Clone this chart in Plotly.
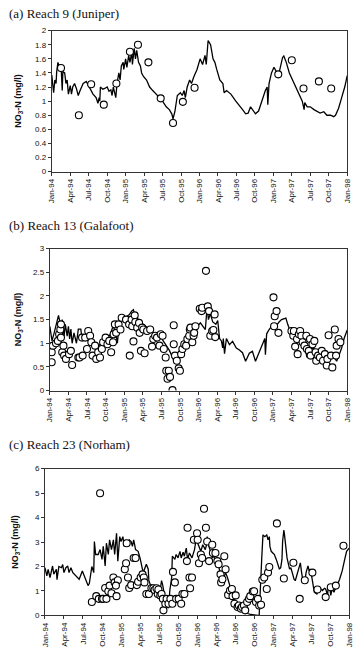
import plotly.graph_objects as go

# ---------------- data (x = months since Jan-1994) ----------------
tick_vals = [0, 3, 6, 9, 12, 15, 18, 21, 24, 27, 30, 33, 36, 39, 42, 45, 48]
tick_text = ["Jan-94", "Apr-94", "Jul-94", "Oct-94", "Jan-95", "Apr-95", "Jul-95", "Oct-95",
             "Jan-96", "Apr-96", "Jul-96", "Oct-96", "Jan-97", "Apr-97", "Jul-97", "Oct-97", "Jan-98"]

titles = ["(a) Reach 9 (Juniper)", "(b) Reach 13 (Galafoot)", "(c) Reach 23 (Norham)"]

# Panel (a) simulated line
a_sim_m = [0.0, 0.3, 0.5, 0.7, 0.8, 1.0, 1.2, 1.5, 1.7, 1.8, 2.1, 2.3, 2.5, 2.7, 3.0, 3.2, 3.4, 3.7, 4.0, 4.3,
           4.6, 5.1, 5.6, 6.1, 6.7, 7.2, 7.5, 7.7, 7.8, 7.9, 8.3, 8.6, 9.0, 9.3, 9.6, 9.8, 10.0, 10.4, 10.6, 10.9,
           11.1, 11.3, 11.6, 11.7, 12.0, 12.2, 12.5, 12.7, 13.0, 13.1, 13.4, 13.6, 13.8, 14.1, 14.4, 14.6, 14.9,
           15.4, 15.9, 16.4, 17.0, 17.5, 18.0, 18.6, 19.1, 19.5, 19.7, 20.0, 20.4, 20.9, 21.2, 21.5, 21.7, 22.0,
           22.4, 22.7, 23.1, 23.4, 23.6, 24.1, 24.5, 24.9, 25.1, 25.4, 25.8, 26.2, 26.5, 26.8, 27.3, 27.8, 28.0,
           28.4, 29.1, 29.9, 30.4, 31.0, 31.5, 31.9, 32.3, 32.7, 33.1, 33.6, 34.1, 34.7, 35.0, 35.1, 35.3, 35.7,
           36.1, 36.5, 36.8, 37.1, 37.5, 37.7, 38.1, 38.6, 39.2, 39.7, 40.2, 40.7, 41.0, 41.1, 41.5, 42.0, 42.6,
           43.1, 43.6, 44.2, 44.7, 45.3, 45.8, 46.1, 46.6, 47.1, 47.6, 48.0]
a_sim_v = [1.37, 1.12, 1.30, 1.25, 1.42, 1.55, 1.50, 1.52, 1.15, 1.42, 1.40, 1.25, 1.30, 1.10, 1.22, 1.10, 1.20,
           1.25, 1.18, 1.08, 1.15, 1.25, 1.28, 1.20, 1.10, 1.05, 0.97, 1.05, 1.00, 1.20, 1.17, 1.18, 1.20, 1.14,
           1.16, 1.08, 1.20, 1.05, 1.25, 1.40, 1.30, 1.50, 1.55, 1.45, 1.60, 1.48, 1.65, 1.55, 1.70, 1.52, 1.75,
           1.60, 1.72, 1.55, 1.50, 1.40, 1.35, 1.30, 1.20, 1.15, 1.10, 1.05, 1.00, 0.92, 0.88, 0.82, 0.75, 0.85,
           1.08, 1.12, 1.08, 1.15, 1.05, 1.20, 1.30, 1.25, 1.35, 1.40, 1.45, 1.60, 1.52, 1.65, 1.52, 1.86, 1.80,
           1.60, 1.55, 1.45, 1.30, 1.25, 1.12, 1.15, 1.10, 1.00, 0.95, 0.88, 0.82, 0.83, 0.92, 0.86, 0.82, 0.86,
           1.00, 1.15, 1.20, 0.95, 1.25, 1.40, 1.48, 1.42, 1.35, 1.45, 1.62, 1.64, 1.55, 1.40, 1.28, 1.20, 1.10,
           1.00, 0.88, 0.98, 0.92, 0.92, 0.88, 0.85, 0.83, 0.85, 0.80, 0.80, 0.78, 0.80, 0.90, 1.05, 1.20, 1.36]
# Panel (a) observations
a_obs_m = [1.5, 4.4, 6.4, 8.45, 10.5, 12.7, 14.0, 15.7, 17.7, 19.7, 21.3, 23.2, 36.8, 39.0, 40.9, 43.4, 45.4]
a_obs_v = [1.47, 0.80, 1.24, 0.95, 1.25, 1.70, 1.80, 1.55, 1.04, 0.69, 0.99, 1.19, 1.38, 1.58, 1.18, 1.28, 1.18]

# Panel (b) simulated line
b_sim_m = [0.0, 0.35, 0.7, 1.1, 1.4, 1.6, 1.8, 2.0, 2.3, 2.5, 2.8, 3.0, 3.2, 3.4, 3.6, 3.9, 4.3, 4.6, 5.0, 5.2,
           5.7, 6.2, 6.8, 7.3, 7.8, 8.3, 8.8, 9.3, 9.8, 10.2, 10.6, 10.9, 11.2, 11.7, 12.2, 12.8, 13.2, 13.5,
           13.7, 14.0, 14.3, 14.6, 15.1, 15.7, 16.2, 16.7, 17.2, 17.8, 18.3, 18.8, 19.3, 19.8, 20.1, 20.5, 20.9,
           21.4, 21.9, 22.4, 23.0, 23.5, 24.3, 24.7, 25.1, 25.4, 25.6, 25.9, 26.3, 26.8, 27.1, 27.4, 27.7, 27.9,
           28.0, 28.2, 28.5, 29.0, 29.5, 30.1, 30.6, 31.1, 31.6, 32.2, 32.7, 33.2, 33.7, 34.2, 34.7, 34.8, 35.0,
           35.4, 35.8, 36.2, 36.6, 37.0, 37.4, 38.1, 38.4, 38.7, 39.3, 40.0, 40.6, 41.3, 41.5, 41.8, 42.2, 42.6,
           43.1, 43.6, 44.2, 44.7, 45.1, 45.5, 45.9, 46.3, 46.7, 47.1, 47.5, 48.0]
b_sim_v = [1.36, 1.05, 1.22, 1.43, 1.59, 1.47, 1.35, 1.50, 1.15, 1.40, 1.15, 1.36, 1.09, 1.30, 1.00, 1.22, 1.00,
           1.30, 1.30, 1.09, 1.09, 1.05, 1.00, 0.95, 0.94, 1.00, 1.05, 1.10, 1.20, 1.36, 1.25, 1.00, 1.40, 1.50,
           1.55, 1.60, 1.68, 1.71, 1.55, 1.65, 1.45, 1.36, 1.40, 1.33, 1.28, 1.22, 1.20, 1.15, 1.05, 0.94, 0.85,
           0.70, 0.60, 0.72, 0.80, 0.88, 0.94, 1.05, 1.15, 1.30, 1.43, 1.35, 1.29, 1.78, 1.50, 1.62, 1.45, 1.40,
           1.48, 1.10, 1.05, 0.90, 1.10, 0.78, 1.10, 0.97, 1.04, 0.90, 0.86, 0.80, 0.62, 0.79, 0.83, 0.62, 0.79,
           0.97, 1.10, 0.76, 1.20, 1.29, 1.36, 1.30, 1.39, 1.45, 1.50, 1.53, 1.40, 1.29, 1.18, 1.08, 0.95, 0.83,
           0.70, 0.90, 0.88, 0.90, 0.82, 0.79, 0.82, 0.83, 0.75, 0.80, 0.70, 0.62, 0.75, 0.90, 1.10, 1.28]
# Panel (b) observations
b_obs_m = [0.3, 0.3, 0.5, 1.0, 1.3, 1.5, 1.7, 1.8, 1.8, 2.0, 2.2, 2.3, 2.6, 3.1, 3.4, 3.6, 4.6, 4.8, 5.2, 5.3,
           5.7, 6.0, 6.2, 6.5, 6.7, 6.9, 7.3, 7.5, 7.8, 8.1, 8.4, 8.6, 9.0, 9.3, 9.6, 9.9, 10.2, 10.3, 10.5, 10.7,
           11.1, 11.4, 11.6, 12.3, 12.8, 12.9, 13.2, 13.3, 13.5, 13.7, 13.8, 14.1, 14.4, 14.5, 14.7, 14.9, 15.1,
           15.3, 15.7, 16.2, 16.5, 16.7, 17.0, 17.3, 17.7, 17.9, 18.2, 18.4, 18.7, 18.8, 19.0, 19.2, 19.4, 19.8,
           20.0, 20.0, 20.2, 20.5, 20.8, 21.0, 21.2, 21.4, 21.7, 22.0, 22.2, 22.5, 22.6, 22.7, 23.0, 23.2, 23.3,
           23.5, 24.2, 24.5, 24.6, 25.2, 25.5, 25.7, 25.9, 26.2, 26.4, 26.6, 26.7,
           36.1, 36.3, 36.6, 36.2, 36.9, 39.0, 39.3, 39.4, 39.6, 39.9, 40.2, 40.4, 40.6, 40.8, 40.0, 41.1, 41.4,
           41.5, 41.8, 42.0, 42.1, 42.4, 42.7, 42.9, 43.0, 43.3, 43.6, 43.9, 44.1, 44.4, 44.7, 44.8, 45.0, 45.4,
           45.6, 46.0, 46.2, 46.3, 46.6, 46.9]
b_obs_v = [0.60, 0.81, 0.95, 1.00, 1.05, 1.19, 1.29, 1.40, 1.12, 0.81, 0.95, 0.74, 0.67, 0.77, 0.84, 0.54, 0.70,
           0.70, 1.12, 0.74, 1.12, 0.88, 1.26, 1.16, 1.02, 0.74, 0.95, 0.67, 0.81, 0.70, 0.88, 1.02, 1.12, 0.98,
           1.05, 0.81, 1.02, 1.19, 1.40, 1.22, 1.40, 1.29, 1.54, 1.50, 1.40, 0.74, 1.50, 1.36, 1.04, 1.59, 1.45,
           1.33, 1.43, 1.22, 0.84, 1.33, 1.29, 0.79, 1.26, 1.29, 0.93, 1.09, 1.16, 1.12, 0.95, 1.19, 1.16, 0.88,
           0.70, 0.42, 0.25, 0.42, 0.29, 0.01, 1.38, 0.98, 0.74, 0.63, 0.47, 0.42, 0.77, 0.88, 0.98, 0.95, 1.09,
           1.16, 1.29, 1.33, 1.02, 1.16, 1.22, 1.36, 1.73, 1.68, 1.75, 2.53, 1.78, 1.68, 1.16, 1.26, 1.28, 1.61,
           1.13,
           1.97, 1.57, 1.68, 1.36, 1.22, 1.26, 1.16, 1.26, 0.93, 1.09, 1.19, 1.26, 1.16, 1.02, 0.77, 0.95, 1.16,
           0.88, 0.84, 1.09, 0.74, 0.98, 1.05, 0.81, 0.63, 0.74, 0.70, 0.84, 0.63, 0.77, 0.53, 0.67, 1.17, 0.74,
           0.49, 1.29, 0.74, 0.95, 1.09, 1.02]

# Panel (c) simulated line
c_sim_m = [0.0, 0.3, 0.5, 0.8, 1.2, 1.4, 1.8, 1.9, 2.2, 2.6, 2.8, 3.0, 3.3, 3.6, 3.8, 4.1, 4.4, 4.9, 5.4, 5.9,
           6.4, 6.8, 7.0, 7.2, 7.4, 7.7, 7.8, 8.0, 8.4, 8.7, 9.0, 9.2, 9.5, 9.7, 10.0, 10.2, 10.5, 10.8, 11.0,
           11.3, 11.5, 11.8, 12.0, 12.3, 12.5, 12.7, 13.0, 13.3, 13.6, 13.8, 14.0, 14.3, 14.7, 15.0, 15.2, 15.5,
           15.7, 16.0, 16.3, 16.4, 16.6, 16.8, 17.1, 17.3, 17.7, 17.9, 18.2, 18.4, 18.6, 18.8, 19.1, 19.3, 19.5,
           19.7, 20.0, 20.1, 20.5, 20.7, 21.0, 21.3, 21.5, 21.8, 22.0, 22.3, 22.5, 22.8, 23.2, 23.6, 23.8, 24.1,
           24.3, 24.6, 24.9, 25.3, 25.5, 25.6, 25.8, 26.1, 26.4, 26.6, 26.9, 27.2, 27.4, 27.7, 27.8, 28.0, 28.3,
           28.5, 28.8, 29.0, 29.4, 29.7, 30.0, 30.2, 30.5, 30.7, 31.0, 31.5, 32.0, 32.5, 33.0, 33.6, 33.8, 33.9,
           34.1, 34.2, 34.4, 34.7, 35.0, 35.2, 35.4, 35.5, 35.7, 36.2, 36.5, 36.7, 37.0, 37.2, 37.4, 37.5, 37.7,
           37.8, 38.0, 38.2, 38.6, 38.8, 39.1, 39.3, 39.5, 39.8, 40.1, 40.3, 40.5, 40.7, 41.0, 41.2, 41.5, 41.7,
           41.9, 42.1, 42.3, 42.5, 42.9, 43.2, 43.4, 43.8, 44.1, 44.3, 44.6, 44.7, 45.0, 45.1, 45.3, 45.6, 45.9,
           46.1, 46.5, 46.9, 47.3, 47.6, 48.0]
c_sim_v = [1.95, 1.62, 1.88, 1.55, 2.02, 1.69, 1.89, 1.46, 2.00, 1.95, 2.08, 1.75, 1.95, 2.02, 1.75, 1.95, 1.75,
           1.62, 1.48, 1.82, 1.48, 1.22, 1.30, 1.68, 2.00, 1.75, 3.02, 2.49, 2.49, 2.69, 2.29, 2.82, 2.02, 2.95,
           2.49, 3.09, 2.69, 3.09, 2.49, 3.36, 2.22, 3.22, 3.02, 3.22, 2.82, 3.09, 2.89, 3.09, 3.02, 2.82, 3.09,
           2.69, 2.62, 2.35, 2.15, 1.75, 1.89, 2.09, 1.89, 1.42, 1.28, 1.22, 0.95, 1.08, 1.22, 0.82, 1.08, 1.42,
           1.22, 0.82, 0.41, 0.35, 0.31, 1.02, 1.55, 2.42, 2.29, 2.49, 2.35, 2.62, 2.35, 2.58, 2.42, 2.75, 2.29,
           2.55, 2.35, 2.69, 3.02, 2.95, 2.82, 2.62, 2.89, 2.69, 2.89, 3.22, 2.89, 2.62, 2.35, 2.42, 2.29, 2.15,
           2.02, 1.68, 1.48, 1.35, 1.55, 1.75, 1.55, 1.35, 1.02, 0.75, 0.61, 0.48, 0.41, 0.31, 0.25, 0.15, 0.08,
           0.04, 0.01, 0.00, 0.00, 0.68, 1.48, 2.29, 3.29, 3.22, 3.29, 3.09, 3.22, 2.82, 2.62, 2.49, 2.29, 2.09,
           1.89, 1.95, 2.29, 3.02, 3.49, 3.29, 2.82, 2.35, 1.89, 1.95, 1.68, 1.48, 1.42, 1.68, 1.89, 2.15, 1.75,
           1.42, 1.35, 1.75, 2.02, 1.82, 1.89, 1.62, 1.22, 0.95, 0.88, 1.08, 1.11, 1.02, 1.11, 1.08, 0.82, 1.22,
           1.02, 0.82, 1.08, 0.95, 1.15, 1.22, 1.48, 1.82, 2.29, 2.62, 2.75]
# Panel (c) observations
c_obs_m = [7.4, 8.1, 8.5, 8.7, 9.0, 9.2, 9.5, 9.7, 10.0, 10.2, 10.5, 10.8, 11.0, 11.3, 11.5, 11.2, 12.6, 12.8,
           13.1, 13.3, 12.9, 13.6, 14.0, 14.3, 14.5, 14.7, 15.1, 15.4, 15.6, 15.7, 16.0, 16.4, 16.8, 17.1, 17.3,
           17.6, 17.8, 17.9, 18.2, 18.4, 18.6, 18.7, 19.0, 19.2, 19.5, 19.8, 20.1, 20.2, 20.5, 20.7, 21.1, 21.5,
           21.7, 22.0, 22.5, 22.4, 22.8, 22.9, 23.2, 23.5, 24.0, 24.1, 24.3, 24.6, 24.8, 25.1, 25.4, 25.6, 25.9,
           26.4, 26.5, 26.9, 27.2, 27.4, 27.7, 27.8, 28.0, 28.3, 28.5, 28.9, 29.2, 29.5, 29.6, 29.9, 30.1, 30.4,
           30.6, 30.9, 31.1, 31.4, 31.6, 31.9, 32.2, 32.4, 32.8, 33.0, 33.3, 33.6, 33.8, 34.1, 34.3, 34.6, 35.0,
           35.2, 35.4, 36.6, 37.7, 39.2, 40.2, 41.0, 42.2, 43.0, 44.3, 45.1, 45.9, 47.1]
c_obs_v = [0.55, 0.79, 0.68, 4.99, 0.68, 0.68, 1.12, 0.68, 0.99, 1.22, 0.91, 1.55, 1.35, 0.79, 1.44, 1.22, 1.89,
           2.13, 1.55, 1.12, 2.95, 1.24, 2.35, 2.35, 1.24, 1.38, 1.55, 1.68, 1.55, 1.35, 0.88, 0.88, 1.11, 1.11,
           1.04, 1.11, 0.88, 1.06, 0.82, 0.88, 0.68, 0.21, 0.48, 0.68, 0.48, 0.68, 0.48, 1.78, 1.35, 0.68, 0.68,
           0.48, 0.88, 0.88, 3.58, 2.22, 1.55, 1.11, 1.55, 3.09, 3.36, 3.09, 2.13, 2.49, 2.35, 4.36, 3.58, 3.02,
           2.22, 2.89, 2.55, 2.55, 2.22, 2.09, 1.68, 1.35, 1.48, 2.42, 1.89, 0.84, 1.02, 1.08, 0.79, 0.48, 0.82,
           0.35, 0.41, 0.28, 0.35, 0.41, 0.21, 0.55, 0.68, 0.79, 0.98, 0.99, 0.55, 0.68, 0.41, 0.44, 1.46, 1.55,
           1.08, 1.75, 1.98, 3.76, 1.51, 2.15, 0.68, 1.44, 1.75, 1.06, 0.75, 1.15, 1.22, 2.85]

# ---------------- layout helpers ----------------
W, H = 360, 655
panels = [
    dict(sim=(a_sim_m, a_sim_v), obs=(a_obs_m, a_obs_v), x0=49, x1=352, ytop=27, ybot=170,
         ymax=2, dtick=0.2, title_y=10, ytitle_x=15),
    dict(sim=(b_sim_m, b_sim_v), obs=(b_obs_m, b_obs_v), x0=47, x1=352, ytop=248, ybot=392,
         ymax=3, dtick=0.5, title_y=225, ytitle_x=15),
    dict(sim=(c_sim_m, c_sim_v), obs=(c_obs_m, c_obs_v), x0=42, x1=354, ytop=471, ybot=620,
         ymax=6, dtick=1, title_y=447, ytitle_x=11),
]

fig = go.Figure()
tick_font = dict(family="Liberation Sans, Arial", size=8, color="#111")
annotations = []
for i, p in enumerate(panels):
    n = "" if i == 0 else str(i + 1)
    xa, ya = "x" + n, "y" + n
    fig.add_trace(go.Scatter(x=p["sim"][0], y=p["sim"][1], mode="lines",
                             line=dict(color="black", width=1.3), xaxis=xa, yaxis=ya,
                             showlegend=False, hoverinfo="skip"))
    fig.add_trace(go.Scatter(x=p["obs"][0], y=p["obs"][1], mode="markers",
                             marker=dict(symbol="circle", size=7, color="white",
                                         line=dict(color="black", width=1.1)),
                             xaxis=xa, yaxis=ya, showlegend=False, hoverinfo="skip"))
    xdom = [p["x0"] / W, p["x1"] / W]
    ydom = [1 - p["ybot"] / H, 1 - p["ytop"] / H]
    fig.layout["xaxis" + n] = dict(domain=xdom, range=[0, 48], tickmode="array", tickvals=tick_vals,
                                   ticktext=tick_text, tickangle=-90, tickfont=tick_font,
                                   ticks="outside", ticklen=3, tickcolor="#333", showgrid=False,
                                   zeroline=False, showline=True, linecolor="#333", linewidth=1,
                                   mirror=True, anchor=ya, fixedrange=True)
    fig.layout["yaxis" + n] = dict(domain=ydom, range=[0, p["ymax"]], dtick=p["dtick"], tick0=0,
                                   tickfont=tick_font, ticks="outside", ticklen=3, tickcolor="#333",
                                   showgrid=False, zeroline=False, showline=True, linecolor="#333",
                                   linewidth=1, mirror=True, anchor=xa, fixedrange=True)
    annotations.append(dict(text=titles[i], xref="paper", yref="paper", x=3 / W,
                            y=1 - p["title_y"] / H, xanchor="left", yanchor="middle", showarrow=False,
                            font=dict(family="Liberation Serif, Times New Roman", size=13, color="#111")))
    annotations.append(dict(text="<b>NO<sub>3</sub>-N (mg/l)</b>", xref="paper", yref="paper",
                            x=p["ytitle_x"] / W, y=1 - (p["ytop"] + p["ybot"]) / 2 / H,
                            xanchor="center", yanchor="middle", textangle=-90, showarrow=False,
                            font=dict(family="Liberation Sans, Arial", size=9, color="#111")))

fig.update_layout(width=W, height=H, margin=dict(l=0, r=0, t=0, b=0),
                  paper_bgcolor="white", plot_bgcolor="white", annotations=annotations)
fig.write_html("out.html", include_plotlyjs=True, config={"displayModeBar": False})
